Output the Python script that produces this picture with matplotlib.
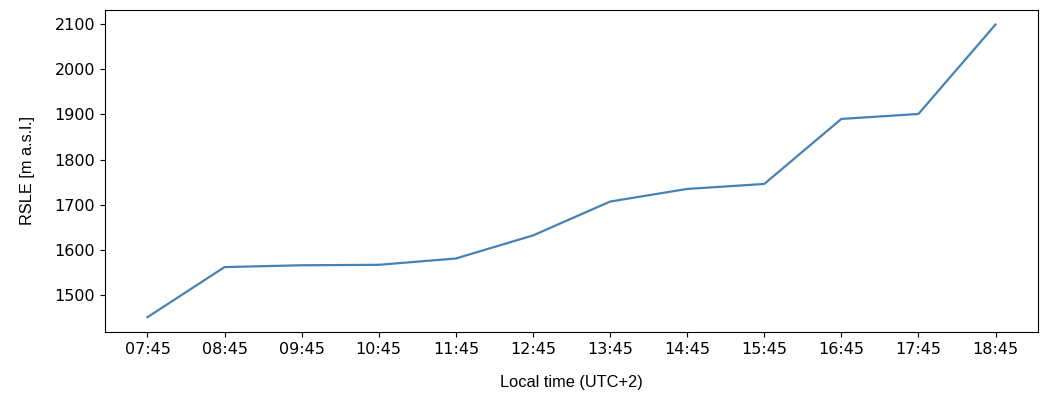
import matplotlib
matplotlib.use("Agg")
import matplotlib.pyplot as plt

plt.rcParams["font.family"] = ["DejaVu Sans"]

# local time of each snow line estimate
times = ["07:45", "08:45", "09:45", "10:45", "11:45", "12:45",
         "13:45", "14:45", "15:45", "16:45", "17:45", "18:45"]
# regional snow line elevation [m a.s.l.]
rsle = [1451, 1562, 1566, 1567, 1581, 1632,
        1707, 1735, 1746, 1890, 1901, 2099]

fig = plt.figure(figsize=(10.4, 3.96), dpi=100)
ax = fig.add_axes([0.101, 0.162, 0.897, 0.813])

ax.plot(range(len(times)), rsle, color="steelblue", linewidth=1.6)
ax.set_xticks(range(len(times)))
ax.set_xticklabels(times)
ax.tick_params(labelsize=11.5)

ax.set_xlabel("Local time (UTC+2)", fontfamily="Liberation Sans", fontsize=11.8, labelpad=13)
ax.set_ylabel("RSLE [m a.s.l.]", fontfamily="Liberation Sans", fontsize=11.8, labelpad=14)

fig.savefig("out.png", dpi=100)
